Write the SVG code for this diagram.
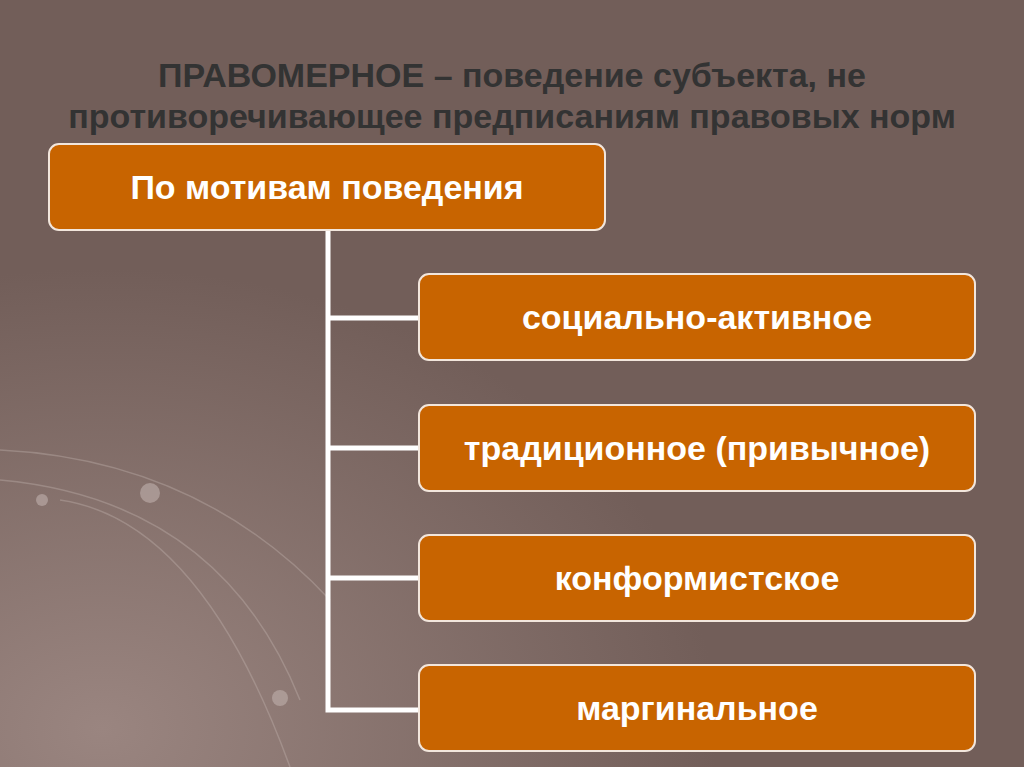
<svg xmlns="http://www.w3.org/2000/svg" width="1024" height="767" viewBox="0 0 1024 767">
<defs>
<radialGradient id="bg" cx="0.1" cy="0.95" r="0.6">
<stop offset="0" stop-color="#9a8580"/><stop offset="1" stop-color="#725e59"/>
</radialGradient>
<style>
.box{fill:#c86400;stroke:#f2e6dc;stroke-width:2}
.t{font-family:"Liberation Sans",Arial,sans-serif;font-weight:bold;font-size:34px;fill:#fff;text-anchor:middle}
.h{font-family:"Liberation Sans",Arial,sans-serif;font-weight:bold;font-size:34px;fill:#333;text-anchor:middle}
.c{stroke:#fff;stroke-width:5;fill:none}
</style>
</defs>
<rect width="1024" height="767" fill="#725e59"/>
<rect width="1024" height="767" fill="url(#bg)"/>
<g opacity="0.35" stroke="#c8bab5" fill="none" stroke-width="1.5">
<path d="M0 450 Q200 460 330 600"/><path d="M0 480 Q220 500 300 700"/><path d="M60 500 Q200 520 290 767"/>
</g>
<g fill="#b8a8a4" opacity="0.7"><circle cx="150" cy="493" r="10"/><circle cx="42" cy="500" r="6"/><circle cx="280" cy="698" r="8"/></g>
<text class="h" x="512" y="87">ПРАВОМЕРНОЕ  – поведение субъекта, не</text>
<text class="h" x="512" y="128">противоречивающее предписаниям правовых норм</text>
<g id="connectors">
<path class="c" d="M328 230 V710 H420 M328 318 H420 M328 448 H420 M328 578 H420"/>
</g>
<g id="root"><rect class="box" x="49" y="144" width="556" height="86" rx="10"/><text class="t" x="327" y="199">По мотивам поведения</text></g>
<g id="n1"><rect class="box" x="419" y="274" width="556" height="86" rx="10"/><text class="t" x="697" y="329">социально-активное</text></g>
<g id="n2"><rect class="box" x="419" y="405" width="556" height="86" rx="10"/><text class="t" x="697" y="460">традиционное (привычное)</text></g>
<g id="n3"><rect class="box" x="419" y="535" width="556" height="86" rx="10"/><text class="t" x="697" y="590">конформистское</text></g>
<g id="n4"><rect class="box" x="419" y="665" width="556" height="86" rx="10"/><text class="t" x="697" y="720">маргинальное</text></g>
</svg>
